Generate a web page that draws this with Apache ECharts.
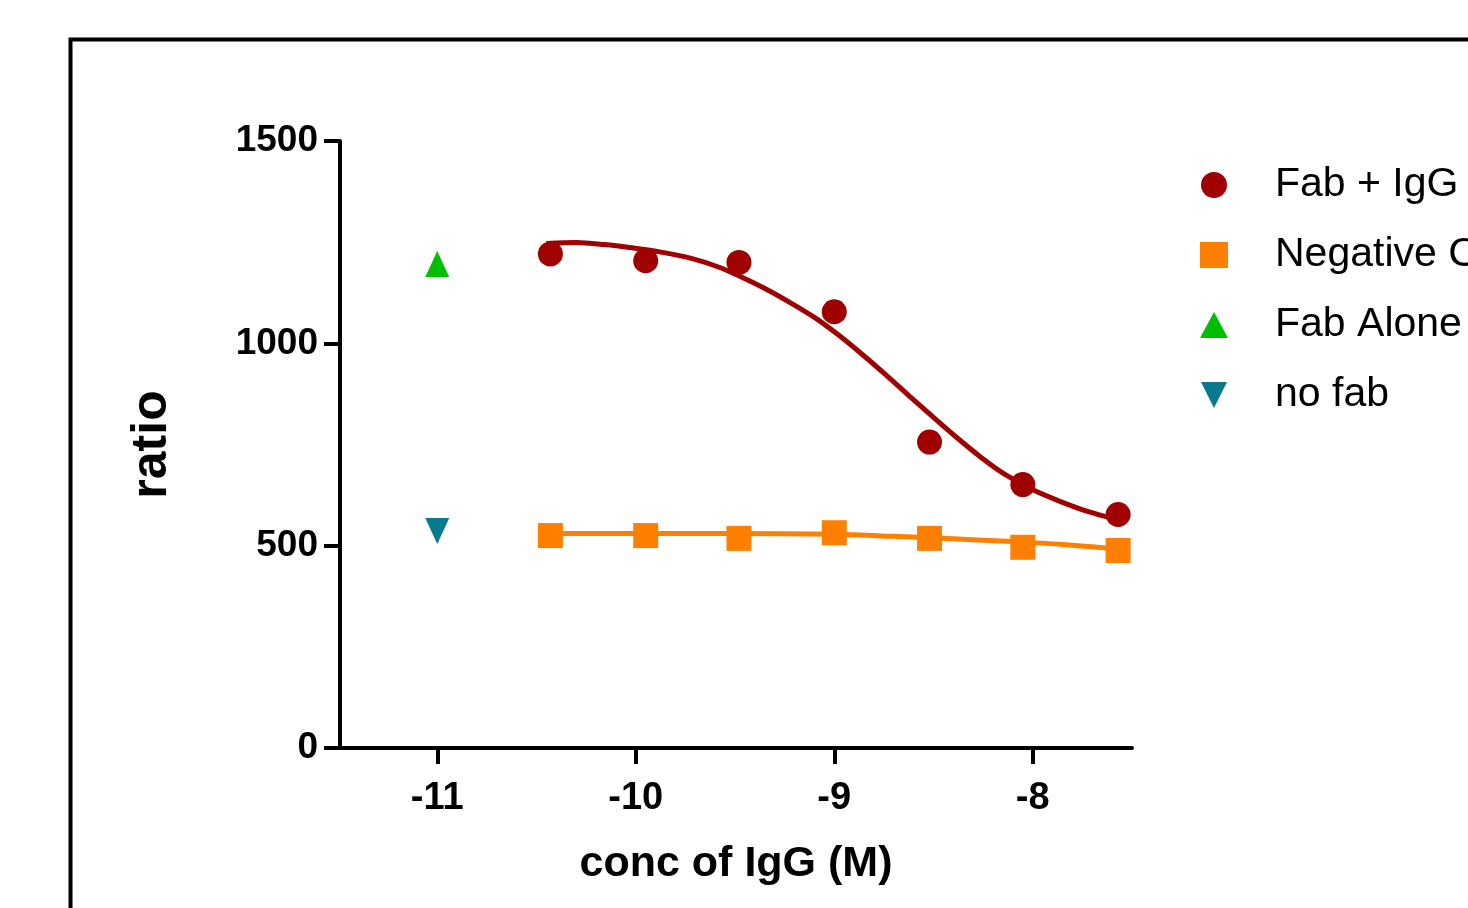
<!DOCTYPE html>
<html>
<head>
<meta charset="utf-8">
<script src="https://cdn.jsdelivr.net/npm/echarts@6/dist/echarts.min.js"></script>
<style>
html,body{margin:0;padding:0;background:#fff;}
#chart{width:1468px;height:908px;}
</style>
</head>
<body>
<div id="chart"></div>
<script>
// ---- data (log10 molar concentration of IgG vs ratio) ----
const logConc = [-10.43, -9.95, -9.48, -9.0, -8.52, -8.05, -7.57];
const fabIgG = [1221, 1204, 1200, 1078, 756, 651, 577];
const negControl = [525, 525, 518, 532, 518, 496, 488];
const fabAloneX = [-11];
const fabAlone = [1196];
const noFabX = [-11];
const noFab = [536];
// fitted curves
const fitFabX = [-10.45, -10.30, -10.16, -10.02, -9.88, -9.72, -9.58, -9.46, -9.34, -9.22, -9.10, -8.98, -8.86, -8.74, -8.62, -8.50, -8.38, -8.26, -8.14, -8.00, -7.86, -7.72, -7.57];
const fitFabY = [1247, 1249, 1244, 1236, 1226, 1210, 1188, 1162, 1133, 1100, 1064, 1021, 973, 922, 869, 817, 766, 718, 676, 638, 609, 584, 564];
const fitNegX = [-10.43, -9.5, -9.0, -8.7, -8.4, -8.1, -7.85, -7.57];
const fitNegY = [530, 530, 528, 523, 517, 510, 503, 492];
const xTicks = [-11, -10, -9, -8];
const seriesNames = ['Fab + IgG', 'Negative Control', 'Fab Alone', 'no fab'];
const colors = ['#A00000', '#FF8000', '#00BF00', '#087A8F'];

const SANS = '"Liberation Sans", Arial, sans-serif';
const invTri = 'path://M0,0 L10,0 L5,10 Z';

const zip = (xs, ys) => xs.map((x, i) => [x, ys[i]]);

const chart = echarts.init(document.getElementById('chart'), null, {renderer: 'canvas'});
chart.setOption({
  animation: false,
  backgroundColor: '#ffffff',
  graphic: [{
    type: 'rect', left: 68, top: 37,
    shape: {width: 1600, height: 1000},
    style: {fill: 'none', stroke: '#000', lineWidth: 4}
  }],
  grid: {left: 340, top: 141, right: 336, bottom: 160, containLabel: false},
  legend: {
    orient: 'vertical', left: 1195, top: 150,
    itemWidth: 28, itemHeight: 26, itemGap: 10,
    data: seriesNames,
    textStyle: {fontFamily: SANS, fontSize: 41, color: '#000', lineHeight: 60, padding: [0, 0, 0, 42]}
  },
  xAxis: {
    type: 'value', min: -11.49, max: -7.5,
    name: 'conc of IgG (M)', nameLocation: 'middle', nameGap: 95,
    nameTextStyle: {fontFamily: SANS, fontSize: 43, fontWeight: 'bold', color: '#000'},
    axisLine: {show: true, onZero: false, lineStyle: {color: '#000', width: 4}},
    axisTick: {show: true, inside: false, length: 16, customValues: xTicks, lineStyle: {color: '#000', width: 4}},
    axisLabel: {show: true, customValues: xTicks, margin: 32, fontFamily: SANS, fontSize: 38, fontWeight: 'bold', color: '#000'},
    splitLine: {show: false}
  },
  yAxis: {
    type: 'value', min: 0, max: 1500, interval: 500,
    name: 'ratio', nameLocation: 'middle', nameGap: 163, nameRotate: 90,
    nameTextStyle: {fontFamily: SANS, fontSize: 50, fontWeight: 'bold', color: '#000'},
    axisLine: {show: true, lineStyle: {color: '#000', width: 4}},
    axisTick: {show: true, inside: false, length: 16, lineStyle: {color: '#000', width: 4}},
    axisLabel: {margin: 22, fontFamily: SANS, fontSize: 37, fontWeight: 'bold', color: '#000',
                formatter: (v) => String(v)},
    splitLine: {show: false}
  },
  series: [
    {name: 'fitFab', type: 'line', data: zip(fitFabX, fitFabY), smooth: 0.3, symbol: 'none',
     lineStyle: {color: colors[0], width: 5}, z: 2, silent: true},
    {name: 'fitNeg', type: 'line', data: zip(fitNegX, fitNegY), smooth: 0.3, symbol: 'none',
     lineStyle: {color: colors[1], width: 5}, z: 2, silent: true},
    {name: seriesNames[0], type: 'scatter', data: zip(logConc, fabIgG), symbol: 'circle', symbolSize: 25,
     itemStyle: {color: colors[0], opacity: 1}, z: 3},
    {name: seriesNames[1], type: 'scatter', data: zip(logConc, negControl), symbol: 'rect', symbolSize: 25,
     itemStyle: {color: colors[1], opacity: 1}, z: 3},
    {name: seriesNames[2], type: 'scatter', data: zip(fabAloneX, fabAlone), symbol: 'triangle', symbolSize: [24, 26],
     itemStyle: {color: colors[2], opacity: 1}, z: 3},
    {name: seriesNames[3], type: 'scatter', data: zip(noFabX, noFab), symbol: invTri, symbolSize: [24, 26],
     itemStyle: {color: colors[3], opacity: 1}, z: 3}
  ]
});
</script>
</body>
</html>
